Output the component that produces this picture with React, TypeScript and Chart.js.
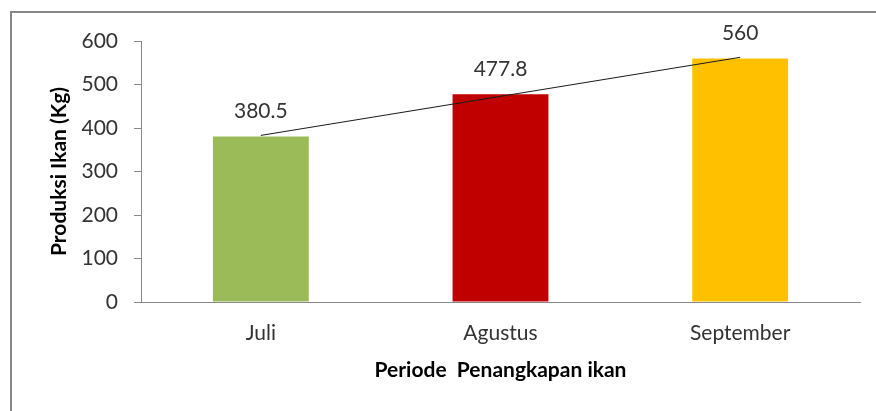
import React, { useEffect, useRef } from "react";
import { Chart, registerables } from "chart.js";

Chart.register(...registerables);

const categories = ["Juli", "Agustus", "September"];
const production = [380.5, 477.8, 560];
const trendValues = [383.0, 472.8, 562.5];
const barColors = ["#9BBB59", "#C00000", "#FFC000"];
const yTicks = [0, 100, 200, 300, 400, 500, 600];

const FONT = "Lato, 'Open Sans', sans-serif";
const TEXT = "#333333";

const valueLabels = {
  id: "valueLabels",
  afterDatasetsDraw(chart: any) {
    const meta = chart.getDatasetMeta(1);
    const ctx = chart.ctx;
    ctx.save();
    ctx.font = `21px ${FONT}`;
    ctx.fillStyle = TEXT;
    ctx.textAlign = "center";
    ctx.textBaseline = "middle";
    meta.data.forEach((bar: any, i: number) => {
      ctx.fillText(String(production[i]), bar.x, bar.y - 25);
    });
    ctx.restore();
  },
};

export default function App() {
  const ref = useRef<HTMLCanvasElement>(null);
  useEffect(() => {
    if (!ref.current) return;
    const chart = new Chart(ref.current, {
      type: "bar",
      data: {
        labels: categories,
        datasets: [
          {
            type: "line",
            data: trendValues,
            borderColor: "#1a1a1a",
            borderWidth: 1,
            pointRadius: 0,
            fill: false,
            order: 0,
          } as any,
          {
            type: "bar",
            data: production,
            backgroundColor: barColors,
            barPercentage: 0.4,
            categoryPercentage: 1,
            order: 1,
          },
        ],
      },
      options: {
        responsive: false,
        animation: false,
        layout: { padding: { top: 41, right: 16, left: 0, bottom: 0 } },
        plugins: {
          legend: { display: false },
          tooltip: { enabled: false },
        },
        scales: {
          x: {
            grid: { display: false, drawTicks: false },
            border: { display: true, color: "#888888", width: 1 },
            ticks: { color: TEXT, font: { family: FONT, size: 21 }, padding: 19 },
            title: {
              display: true,
              text: "Periode  Penangkapan ikan",
              color: "#000000",
              font: { family: FONT, size: 21, weight: "bold" },
              padding: { top: 0, bottom: 28 },
            },
            afterFit(scale: any) {
              scale.height = 109;
            },
          },
          y: {
            min: 0,
            max: 600,
            afterBuildTicks(scale: any) {
              scale.ticks = yTicks.map((v) => ({ value: v }));
            },
            grid: { drawOnChartArea: false, drawTicks: true, tickLength: 7, color: "#888888" },
            border: { display: true, color: "#888888", width: 1 },
            ticks: { color: TEXT, font: { family: FONT, size: 21 }, padding: 16 },
            title: {
              display: true,
              text: "Produksi Ikan (Kg)",
              color: "#000000",
              font: { family: FONT, size: 21, weight: "bold" },
              padding: { top: 47, bottom: 0 },
            },
            afterFit(scale: any) {
              scale.width = 141;
            },
          },
        },
      },
      plugins: [valueLabels],
    });
    return () => chart.destroy();
  }, []);

  return (
    <div
      style={{
        position: "fixed",
        left: 0,
        top: 0,
        width: 876,
        height: 411,
        overflow: "hidden",
        background: "#ffffff",
      }}
    >
      <div
        style={{
          position: "absolute",
          left: 10,
          top: 11,
          width: 920,
          height: 480,
          border: "2px solid #878787",
        }}
      />
      <canvas
        ref={ref}
        width={876}
        height={411}
        style={{ position: "absolute", left: 0, top: 0, display: "block" }}
      />
    </div>
  );
}
